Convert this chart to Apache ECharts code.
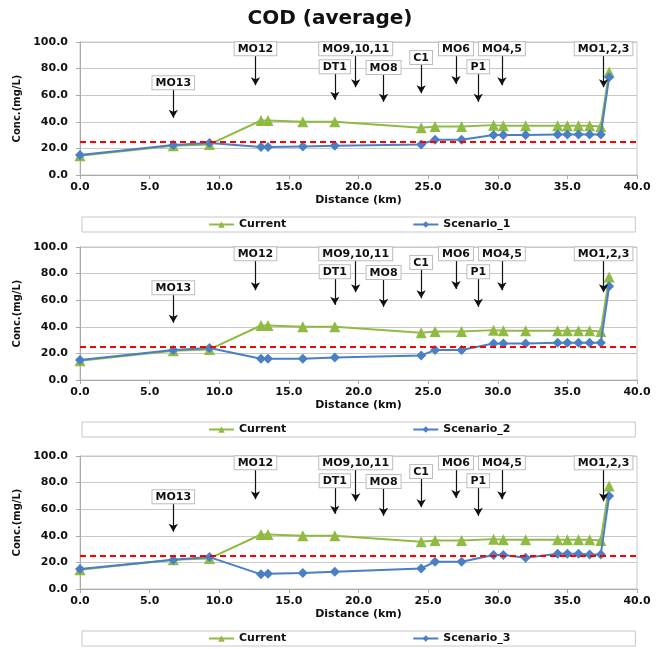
<!DOCTYPE html>
<html>
<head>
<meta charset="utf-8">
<script src="https://cdn.jsdelivr.net/npm/echarts@6/dist/echarts.min.js"></script>
<style>
  html, body { margin: 0; padding: 0; background: #fff; }
  #main { width: 660px; height: 649px; }
</style>
</head>
<body>
<div id="main"></div>
<script>
// distance of each station (km)
const dist = [0, 6.7, 9.3, 13.0, 13.5, 16.0, 18.3, 24.5, 25.5, 27.4, 29.7, 30.4, 32.0, 34.3, 35.0, 35.8, 36.6, 37.4, 38.0];
const current = [14.5, 22, 23, 41, 41, 40, 40, 35.5, 36.5, 36.5, 37.5, 37, 37, 37, 37, 37, 37, 36.5, 77.5];
const scenario1 = [15, 22.5, 24, 21, 21, 21.5, 22, 23, 26.5, 26.5, 30, 30, 30, 30.5, 30.5, 30.5, 30.5, 30.5, 73.5];
const scenario2 = [15, 22.5, 24, 16, 16, 16, 17, 18.5, 22.5, 22.5, 27.5, 27.5, 27.5, 28, 28, 28, 28, 28, 70.5];
const scenario3 = [15, 22, 24, 11, 11.5, 12, 13, 15.5, 20.5, 20.5, 25.5, 25.5, 23.5, 26.5, 26.5, 26.5, 26, 26, 70];
const scenarioNames = ['Scenario_1', 'Scenario_2', 'Scenario_3'];
const standardLine = 25;

// outfall / station annotations: label, x (km), arrow from / to (mg/L)
const annoNames = ['MO13', 'MO12', 'MO9,10,11', 'DT1', 'MO8', 'C1', 'MO6', 'P1', 'MO4,5', 'MO1,2,3'];
const annoX = [6.7, 12.6, 19.8, 18.3, 21.8, 24.5, 27.0, 28.6, 30.3, 37.6];
const annoFrom = [64.5, 90, 90, 76.5, 76, 83.5, 90, 76.5, 90, 90];
const annoTo = [43, 67.5, 66, 56.5, 55, 61.5, 68.5, 55, 67.5, 66];

const FONT = 'DejaVu Sans';
const GREEN = '#8fbb45';
const BLUE = '#4a7fc4';

const pairs = (ys) => dist.map((d, i) => [d, ys[i]]);
const scenarios = [scenario1, scenario2, scenario3];

const gridTops = [42, 247, 456];
const legendTops = [217, 422, 631];

const grids = [], xAxes = [], yAxes = [], legends = [], series = [];

gridTops.forEach((top, p) => {
  grids.push({
    left: 80, right: 23, top: top, height: 133,
    show: true, borderColor: '#c8c8c8', borderWidth: 1
  });
  xAxes.push({
    gridIndex: p, type: 'value', min: 0, max: 40, interval: 5,
    name: 'Distance (km)', nameLocation: 'middle', nameGap: 20,
    nameTextStyle: { fontFamily: FONT, fontWeight: 'bold', fontSize: 11, color: '#111' },
    axisLine: { show: true, lineStyle: { color: '#aaa' } },
    axisTick: { show: true, length: 4, lineStyle: { color: '#aaa' } },
    axisLabel: { fontFamily: FONT, fontWeight: 'bold', fontSize: 11, color: '#111', margin: 7,
      formatter: (v) => v.toFixed(1) },
    splitLine: { show: false }
  });
  yAxes.push({
    gridIndex: p, type: 'value', min: 0, max: 100, interval: 20,
    name: 'Conc.(mg/L)', nameLocation: 'middle', nameGap: 54, nameRotate: 90,
    nameTextStyle: { fontFamily: FONT, fontWeight: 'bold', fontSize: 10, color: '#111' },
    axisLine: { show: true, lineStyle: { color: '#aaa' } },
    axisTick: { show: true, length: 4, lineStyle: { color: '#aaa' } },
    axisLabel: { fontFamily: FONT, fontWeight: 'bold', fontSize: 11, color: '#111', margin: 12,
      formatter: (v) => v.toFixed(1) },
    splitLine: { show: true, lineStyle: { color: '#c8c8c8' } }
  });
  legends.push({
    data: ['Current', scenarioNames[p]],
    left: 82, top: legendTops[p],
    padding: [2, 125, 2, 126],
    itemGap: 126, itemWidth: 25, itemHeight: 8,
    borderColor: '#c8c8c8', borderWidth: 1,
    textStyle: { fontFamily: FONT, fontWeight: 'bold', fontSize: 11, color: '#111' }
  });

  series.push({
    name: 'Current', type: 'line', xAxisIndex: p, yAxisIndex: p,
    data: pairs(current),
    symbol: 'triangle', symbolSize: 11,
    lineStyle: { color: GREEN, width: 2 },
    itemStyle: { color: GREEN }, z: 3
  });
  series.push({
    name: scenarioNames[p], type: 'line', xAxisIndex: p, yAxisIndex: p,
    data: pairs(scenarios[p]),
    symbol: 'diamond', symbolSize: 10,
    lineStyle: { color: BLUE, width: 2 },
    itemStyle: { color: BLUE }, z: 4
  });
  // water quality standard
  series.push({
    name: 'standard', type: 'line', xAxisIndex: p, yAxisIndex: p, data: [],
    markLine: {
      silent: true, symbol: 'none',
      label: { show: false },
      lineStyle: { color: '#ff0000', type: [6, 4], width: 2 },
      data: [{ yAxis: standardLine }]
    }, z: 2
  });
  // station arrows
  series.push({
    name: 'stations', type: 'line', xAxisIndex: p, yAxisIndex: p, data: [],
    markLine: {
      silent: true,
      symbol: ['none', 'arrow'], symbolSize: [7, 8],
      lineStyle: { color: '#111', type: 'solid', width: 1.2 },
      label: {
        show: true, position: 'start', distance: 0,
        fontFamily: FONT, fontWeight: 'bold', fontSize: 11, color: '#111',
        lineHeight: 12,
        backgroundColor: '#fff', borderColor: '#bdbdbd', borderWidth: 1,
        padding: [1, 3, 0, 3]
      },
      data: annoNames.map((n, i) => [
        { coord: [annoX[i], annoFrom[i]], label: { formatter: n } },
        { coord: [annoX[i], annoTo[i]] }
      ])
    }, z: 5
  });
});

const myChart = echarts.init(document.getElementById('main'));
myChart.setOption({
  animation: false,
  title: {
    text: 'COD (average)', left: 'center', top: 4,
    textStyle: { fontFamily: FONT, fontWeight: 'bold', fontSize: 20, color: '#111' }
  },
  legend: legends,
  grid: grids,
  xAxis: xAxes,
  yAxis: yAxes,
  series: series
});
</script>
</body>
</html>
